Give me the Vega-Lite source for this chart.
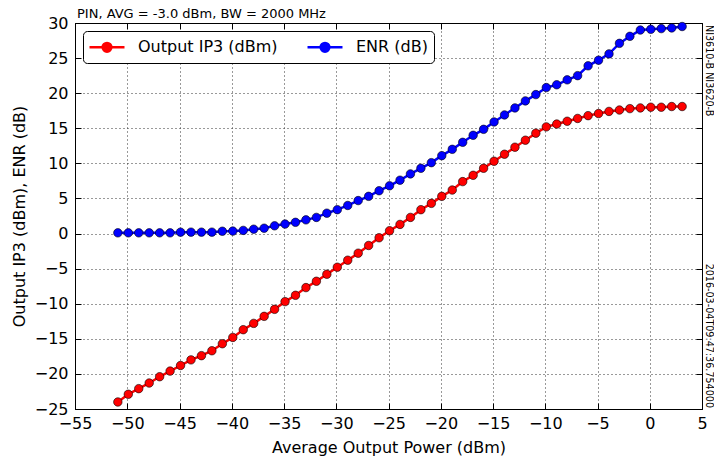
{
  "$schema": "https://vega.github.io/schema/vega-lite/v6.json",
  "width": 627,
  "height": 386,
  "autosize": {"type": "none"},
  "padding": {"left": 75, "top": 23, "right": 12, "bottom": 52},
  "background": "white",
  "title": {"text": "PIN, AVG = -3.0 dBm, BW = 2000 MHz", "anchor": "start", "frame": "group", "fontSize": 13, "fontWeight": "normal", "font": "DejaVu Sans", "color": "black", "offset": 6, "dx": 2, "dy": 12},
  "config": {
    "view": {"stroke": "black", "strokeWidth": 1},
    "axis": {
      "domainColor": "black", "domainWidth": 1, "tickColor": "black", "tickWidth": 1, "tickSize": -6,
      "labelColor": "black", "titleColor": "black", "labelFont": "DejaVu Sans", "titleFont": "DejaVu Sans",
      "labelFontSize": 16, "titleFontSize": 16, "titleFontWeight": "normal",
      "gridColor": "#333333", "gridDash": [1, 3], "gridWidth": 1, "gridOpacity": 1,
      "labelFlush": false, "labelOverlap": false
    }
  },
  "datasets": {
    "curves": [
      {"power": -50.9, "series": "Output IP3 (dBm)", "value": -24.0},
      {"power": -49.9, "series": "Output IP3 (dBm)", "value": -22.9},
      {"power": -48.9, "series": "Output IP3 (dBm)", "value": -22.1},
      {"power": -47.9, "series": "Output IP3 (dBm)", "value": -21.3},
      {"power": -46.9, "series": "Output IP3 (dBm)", "value": -20.4},
      {"power": -45.9, "series": "Output IP3 (dBm)", "value": -19.6},
      {"power": -44.9, "series": "Output IP3 (dBm)", "value": -18.8},
      {"power": -43.9, "series": "Output IP3 (dBm)", "value": -18.0},
      {"power": -42.9, "series": "Output IP3 (dBm)", "value": -17.4},
      {"power": -41.9, "series": "Output IP3 (dBm)", "value": -16.7},
      {"power": -40.9, "series": "Output IP3 (dBm)", "value": -15.7},
      {"power": -39.9, "series": "Output IP3 (dBm)", "value": -14.8},
      {"power": -38.9, "series": "Output IP3 (dBm)", "value": -13.7},
      {"power": -37.9, "series": "Output IP3 (dBm)", "value": -12.8},
      {"power": -36.9, "series": "Output IP3 (dBm)", "value": -11.8},
      {"power": -35.9, "series": "Output IP3 (dBm)", "value": -10.8},
      {"power": -34.9, "series": "Output IP3 (dBm)", "value": -9.7},
      {"power": -33.9, "series": "Output IP3 (dBm)", "value": -8.8},
      {"power": -32.9, "series": "Output IP3 (dBm)", "value": -7.7},
      {"power": -31.9, "series": "Output IP3 (dBm)", "value": -6.8},
      {"power": -30.9, "series": "Output IP3 (dBm)", "value": -5.8},
      {"power": -29.9, "series": "Output IP3 (dBm)", "value": -4.8},
      {"power": -28.9, "series": "Output IP3 (dBm)", "value": -3.8},
      {"power": -27.9, "series": "Output IP3 (dBm)", "value": -2.8},
      {"power": -26.9, "series": "Output IP3 (dBm)", "value": -1.7},
      {"power": -25.9, "series": "Output IP3 (dBm)", "value": -0.6},
      {"power": -24.9, "series": "Output IP3 (dBm)", "value": 0.4},
      {"power": -23.9, "series": "Output IP3 (dBm)", "value": 1.3},
      {"power": -22.9, "series": "Output IP3 (dBm)", "value": 2.3},
      {"power": -21.9, "series": "Output IP3 (dBm)", "value": 3.4},
      {"power": -20.9, "series": "Output IP3 (dBm)", "value": 4.3},
      {"power": -19.9, "series": "Output IP3 (dBm)", "value": 5.3},
      {"power": -18.9, "series": "Output IP3 (dBm)", "value": 6.2},
      {"power": -17.9, "series": "Output IP3 (dBm)", "value": 7.4},
      {"power": -16.9, "series": "Output IP3 (dBm)", "value": 8.3},
      {"power": -15.9, "series": "Output IP3 (dBm)", "value": 9.3},
      {"power": -14.9, "series": "Output IP3 (dBm)", "value": 10.3},
      {"power": -13.9, "series": "Output IP3 (dBm)", "value": 11.3},
      {"power": -12.9, "series": "Output IP3 (dBm)", "value": 12.3},
      {"power": -11.9, "series": "Output IP3 (dBm)", "value": 13.3},
      {"power": -10.9, "series": "Output IP3 (dBm)", "value": 14.3},
      {"power": -9.9, "series": "Output IP3 (dBm)", "value": 15.2},
      {"power": -8.9, "series": "Output IP3 (dBm)", "value": 15.6},
      {"power": -7.9, "series": "Output IP3 (dBm)", "value": 16.0},
      {"power": -6.9, "series": "Output IP3 (dBm)", "value": 16.4},
      {"power": -5.9, "series": "Output IP3 (dBm)", "value": 16.8},
      {"power": -4.9, "series": "Output IP3 (dBm)", "value": 17.1},
      {"power": -3.9, "series": "Output IP3 (dBm)", "value": 17.4},
      {"power": -2.9, "series": "Output IP3 (dBm)", "value": 17.6},
      {"power": -1.9, "series": "Output IP3 (dBm)", "value": 17.8},
      {"power": -0.9, "series": "Output IP3 (dBm)", "value": 17.9},
      {"power": 0.1, "series": "Output IP3 (dBm)", "value": 18.0},
      {"power": 1.1, "series": "Output IP3 (dBm)", "value": 18.0},
      {"power": 2.1, "series": "Output IP3 (dBm)", "value": 18.1},
      {"power": 3.1, "series": "Output IP3 (dBm)", "value": 18.1},
      {"power": -50.9, "series": "ENR (dB)", "value": 0.1},
      {"power": -49.9, "series": "ENR (dB)", "value": 0.1},
      {"power": -48.9, "series": "ENR (dB)", "value": 0.1},
      {"power": -47.9, "series": "ENR (dB)", "value": 0.1},
      {"power": -46.9, "series": "ENR (dB)", "value": 0.1},
      {"power": -45.9, "series": "ENR (dB)", "value": 0.1},
      {"power": -44.9, "series": "ENR (dB)", "value": 0.2},
      {"power": -43.9, "series": "ENR (dB)", "value": 0.2},
      {"power": -42.9, "series": "ENR (dB)", "value": 0.2},
      {"power": -41.9, "series": "ENR (dB)", "value": 0.2},
      {"power": -40.9, "series": "ENR (dB)", "value": 0.33},
      {"power": -39.9, "series": "ENR (dB)", "value": 0.35},
      {"power": -38.9, "series": "ENR (dB)", "value": 0.45},
      {"power": -37.9, "series": "ENR (dB)", "value": 0.62},
      {"power": -36.9, "series": "ENR (dB)", "value": 0.76},
      {"power": -35.9, "series": "ENR (dB)", "value": 1.1},
      {"power": -34.9, "series": "ENR (dB)", "value": 1.35},
      {"power": -33.9, "series": "ENR (dB)", "value": 1.6},
      {"power": -32.9, "series": "ENR (dB)", "value": 1.95},
      {"power": -31.9, "series": "ENR (dB)", "value": 2.3},
      {"power": -30.9, "series": "ENR (dB)", "value": 2.9},
      {"power": -29.9, "series": "ENR (dB)", "value": 3.4},
      {"power": -28.9, "series": "ENR (dB)", "value": 4.0},
      {"power": -27.9, "series": "ENR (dB)", "value": 4.7},
      {"power": -26.9, "series": "ENR (dB)", "value": 5.3},
      {"power": -25.9, "series": "ENR (dB)", "value": 6.1},
      {"power": -24.9, "series": "ENR (dB)", "value": 6.8},
      {"power": -23.9, "series": "ENR (dB)", "value": 7.6},
      {"power": -22.9, "series": "ENR (dB)", "value": 8.5},
      {"power": -21.9, "series": "ENR (dB)", "value": 9.3},
      {"power": -20.9, "series": "ENR (dB)", "value": 10.1},
      {"power": -19.9, "series": "ENR (dB)", "value": 11.1},
      {"power": -18.9, "series": "ENR (dB)", "value": 12.0},
      {"power": -17.9, "series": "ENR (dB)", "value": 13.0},
      {"power": -16.9, "series": "ENR (dB)", "value": 14.0},
      {"power": -15.9, "series": "ENR (dB)", "value": 14.85},
      {"power": -14.9, "series": "ENR (dB)", "value": 15.9},
      {"power": -13.9, "series": "ENR (dB)", "value": 16.9},
      {"power": -12.9, "series": "ENR (dB)", "value": 17.9},
      {"power": -11.9, "series": "ENR (dB)", "value": 18.9},
      {"power": -10.9, "series": "ENR (dB)", "value": 19.8},
      {"power": -9.9, "series": "ENR (dB)", "value": 20.8},
      {"power": -8.9, "series": "ENR (dB)", "value": 21.2},
      {"power": -7.9, "series": "ENR (dB)", "value": 21.9},
      {"power": -6.9, "series": "ENR (dB)", "value": 22.5},
      {"power": -5.9, "series": "ENR (dB)", "value": 23.9},
      {"power": -4.9, "series": "ENR (dB)", "value": 24.7},
      {"power": -3.9, "series": "ENR (dB)", "value": 25.6},
      {"power": -2.9, "series": "ENR (dB)", "value": 27.1},
      {"power": -1.9, "series": "ENR (dB)", "value": 28.1},
      {"power": -0.9, "series": "ENR (dB)", "value": 29.0},
      {"power": 0.1, "series": "ENR (dB)", "value": 29.1},
      {"power": 1.1, "series": "ENR (dB)", "value": 29.2},
      {"power": 2.1, "series": "ENR (dB)", "value": 29.3},
      {"power": 3.1, "series": "ENR (dB)", "value": 29.5}
    ],
    "notesTop": [{"power": 5, "value": 30, "note": "NI3610-B NI3620-B"}],
    "notesBottom": [{"power": 5, "value": -25, "note": "2016-03-04T09:47:36.754000"}]
  },
  "layer": [
    {
      "data": {"name": "curves"},
      "mark": {"type": "line", "strokeWidth": 2.5, "point": {"filled": true, "size": 72, "stroke": "black", "strokeWidth": 0.6, "opacity": 1}},
      "encoding": {
        "x": {"field": "power", "type": "quantitative",
          "scale": {"domain": [-55, 5], "nice": false, "zero": false},
          "axis": {"orient": "bottom", "title": "Average Output Power (dBm)", "values": [-55, -50, -45, -40, -35, -30, -25, -20, -15, -10, -5, 0, 5], "grid": true, "labelPadding": 12, "titlePadding": 8}},
        "y": {"field": "value", "type": "quantitative",
          "scale": {"domain": [-25, 30], "nice": false, "zero": false},
          "axis": {"orient": "left", "title": "Output IP3 (dBm), ENR (dB)", "values": [-25, -20, -15, -10, -5, 0, 5, 10, 15, 20, 25, 30], "grid": true, "labelPadding": 13, "titlePadding": 7}},
        "color": {"field": "series", "type": "nominal",
          "scale": {"domain": ["Output IP3 (dBm)", "ENR (dB)"], "range": ["#ff0000", "#0000ff"]},
          "legend": {
            "title": null, "orient": "top-left", "direction": "horizontal", "offset": 8,
            "strokeColor": "black", "fillColor": "white", "cornerRadius": 4, "padding": 6,
            "labelFont": "DejaVu Sans", "labelFontSize": 16, "labelColor": "black",
            "symbolType": "M-2,0L2,0M-0.5,0A0.5,0.5 0 1,0 0.5,0A0.5,0.5 0 1,0 -0.5,0Z",
            "symbolSize": 306, "symbolStrokeWidth": 2.5, "symbolOffset": 8, "labelOffset": 21, "columnPadding": 24,
            "encode": {"symbols": {"update": {"fill": {"scale": "color", "field": "value"}, "stroke": {"scale": "color", "field": "value"}}}}
          }}
      }
    },
    {
      "data": {"name": "notesTop"},
      "mark": {"type": "text", "angle": 90, "align": "left", "baseline": "middle", "dx": 2, "dy": -6.5, "fontSize": 9.6, "font": "DejaVu Sans", "color": "black"},
      "encoding": {
        "x": {"field": "power", "type": "quantitative", "axis": {"orient": "top", "labels": false, "title": null, "grid": false, "values": [-55, -50, -45, -40, -35, -30, -25, -20, -15, -10, -5, 0, 5]}},
        "y": {"field": "value", "type": "quantitative", "axis": {"orient": "right", "labels": false, "title": null, "grid": false, "values": [-25, -20, -15, -10, -5, 0, 5, 10, 15, 20, 25, 30]}},
        "text": {"field": "note"}
      }
    },
    {
      "data": {"name": "notesBottom"},
      "mark": {"type": "text", "angle": 90, "align": "right", "baseline": "middle", "dx": -1, "dy": -6.5, "fontSize": 9.6, "font": "DejaVu Sans", "color": "black"},
      "encoding": {
        "x": {"field": "power", "type": "quantitative", "axis": null},
        "y": {"field": "value", "type": "quantitative", "axis": null},
        "text": {"field": "note"}
      }
    }
  ],
  "resolve": {"axis": {"x": "independent", "y": "independent"}}
}
